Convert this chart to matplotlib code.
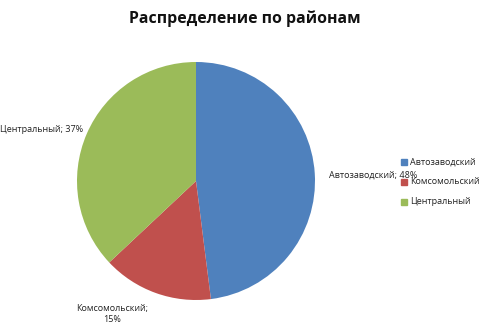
import matplotlib.pyplot as plt

districts = ['Автозаводский', 'Комсомольский', 'Центральный']
shares = [48, 15, 37]
colors = ['#4F81BD', '#C0504D', '#9BBB59']

plt.rcParams['font.family'] = ['Open Sans', 'DejaVu Sans']

fig = plt.figure(figsize=(4.92, 3.30), dpi=100)
W, H = 492, 330

# pie axes placed in pixel units: centre (196,181), radius 119
cx, cy, r = 196, 181, 119
ax = fig.add_axes([(cx - r) / W, (H - cy - r) / H, 2 * r / W, 2 * r / H])
wedges, _ = ax.pie(shares, colors=colors, startangle=90, counterclock=False,
                   radius=1.0)
ax.set_xlim(-1, 1)
ax.set_ylim(-1, 1)
ax.set_aspect('auto')

def px(x, y):
    return x / W, 1 - y / H

fs = 6.5
fig.text(*px(329, 175), f'{districts[0]}; {shares[0]}%', fontsize=fs,
         ha='left', va='center', color='#222222')
fig.text(*px(0, 129), f'{districts[2]}; {shares[2]}%', fontsize=fs,
         ha='left', va='center', color='#222222')
fig.text(*px(112, 314), f'{districts[1]};\n{shares[1]}%', fontsize=fs,
         ha='center', va='center', color='#222222', linespacing=1.3)

fig.text(*px(245, 19), 'Распределение по районам', fontsize=11.4,
         fontweight='bold', ha='center', va='center', color='#111111')

# legend
for i, (name, c) in enumerate(zip(districts, colors)):
    y = 162 + i * 20
    fig.patches.append(plt.Rectangle(px(401, y + 3), 6 / W, 6 / H,
                                     transform=fig.transFigure, color=c))
    fig.text(*px(410, y), name, fontsize=fs, ha='left', va='center',
             color='#222222')

fig.savefig('out.png', dpi=100)
